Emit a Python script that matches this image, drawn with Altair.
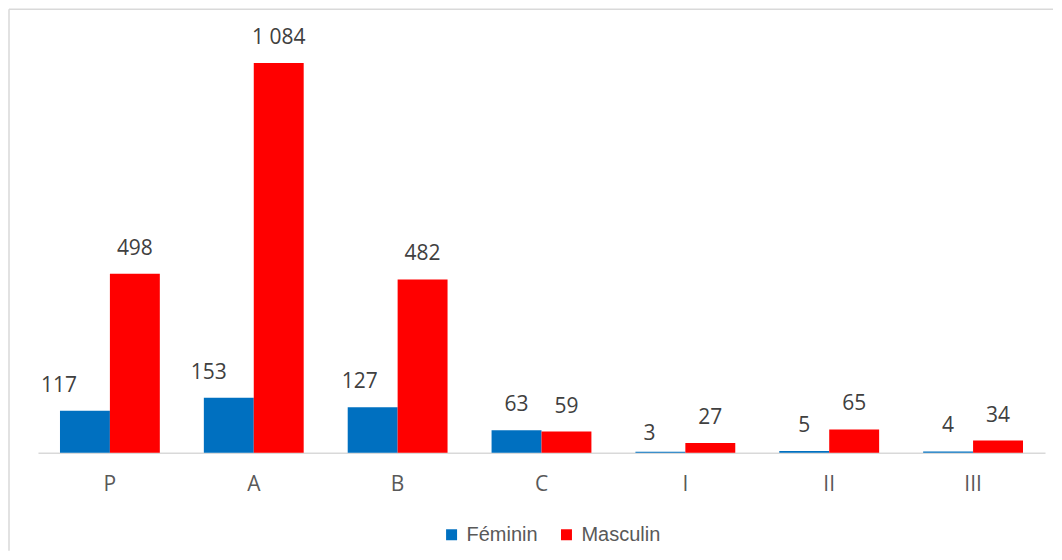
import altair as alt
import pandas as pd

categories = ["P", "A", "B", "C", "I", "II", "III"]
feminin = [117, 153, 127, 63, 3, 5, 4]
masculin = [498, 1084, 482, 59, 27, 65, 34]
series = ["Féminin", "Masculin"]
colors = ["#0070C0", "#FF0000"]

rows = []
for c, f, m in zip(categories, feminin, masculin):
    rows.append({"cat": c, "serie": series[0], "val": f})
    rows.append({"cat": c, "serie": series[1], "val": m})
df = pd.DataFrame(rows)
df["lab"] = df["val"].map(lambda v: f"{v:,}".replace(",", " "))

W, H = 1008, 432

x = alt.X("cat:N", sort=categories, title=None,
          scale=alt.Scale(paddingInner=0.306, paddingOuter=0.153),
          axis=alt.Axis(labelAngle=0, ticks=False, domainColor="#d9d9d9", domainWidth=1.5,
                        labelPadding=21, labelFontSize=21, labelColor="#595959",
                        labelFont="Open Sans", grid=False))
xo = alt.XOffset("serie:N", sort=series, scale=alt.Scale(paddingInner=0, paddingOuter=0))
y = alt.Y("val:Q", scale=alt.Scale(domain=[0, 1200]), axis=None)

one = pd.DataFrame({"k": [0]})
frame_top = alt.Chart(one).mark_rule(color="#d9d9d9", strokeWidth=1.5).encode(
    x=alt.value(-29), x2=alt.value(W + 8), y=alt.value(-12))
frame_left = alt.Chart(one).mark_rule(color="#d9d9d9", strokeWidth=1.5).encode(
    x=alt.value(-29), y=alt.value(-12), y2=alt.value(H + 98))

bars = alt.Chart(df).mark_bar().encode(
    x=x, xOffset=xo, y=y,
    color=alt.Color("serie:N", sort=series, scale=alt.Scale(domain=series, range=colors),
                    legend=alt.Legend(title=None, orient="none", direction="horizontal",
                                      legendX=404, legendY=504, symbolType="square",
                                      symbolSize=121, symbolStrokeWidth=0,
                                      labelFontSize=20, labelColor="#595959",
                                      labelFont="Liberation Sans", columnPadding=18,
                                      labelOffset=5, symbolOpacity=1)),
)

# label placement tweaks (style only): (category, series) -> (dx, dy)
label_nudge = {("P", series[0]): (-26, -25), ("A", series[0]): (-20, -25),
               ("B", series[0]): (-13, -25), ("I", series[0]): (-11, -18)}
txt_kw = dict(baseline="middle", fontSize=21, color="#404040", font="Open Sans")

layers = []
nudged_pred = None
for (cat, ser), (ddx, ddy) in label_nudge.items():
    pred = (alt.datum.cat == cat) & (alt.datum.serie == ser)
    layers.append(alt.Chart(df).transform_filter(pred).mark_text(dx=ddx, dy=ddy, **txt_kw)
                  .encode(x=x, xOffset=xo, y=y, text="lab:N"))
    nudged_pred = pred if nudged_pred is None else (nudged_pred | pred)
layers.append(alt.Chart(df).transform_filter(~nudged_pred).mark_text(dy=-25, **txt_kw)
              .encode(x=x, xOffset=xo, y=y, text="lab:N"))

chart = alt.layer(frame_top, frame_left, bars, *layers).properties(
    width=W, height=H, background="white",
    padding={"left": 0, "top": 0, "right": 0, "bottom": 0}
).configure_view(stroke=None)

chart.save("out.html", embed_options={"renderer": "svg", "actions": False})
